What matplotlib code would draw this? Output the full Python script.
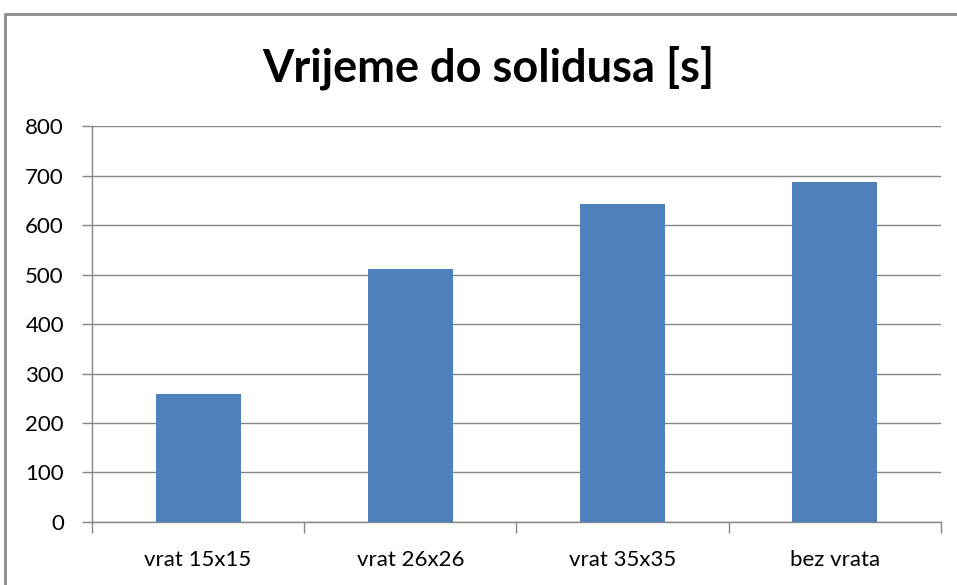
import matplotlib.pyplot as plt
import numpy as np
from matplotlib.patches import Rectangle

categories = ['vrat 15x15', 'vrat 26x26', 'vrat 35x35', 'bez vrata']
times = [258, 511, 642, 687]
y_ticks = [0, 100, 200, 300, 400, 500, 600, 700, 800]

grid_col = '#868686'
bar_col = '#4f81bd'

plt.rcParams['font.family'] = ['Lato', 'DejaVu Sans']

fig = plt.figure(figsize=(9.57, 5.85), dpi=100)
ax = fig.add_axes([0.0961, 0.1077, 0.8872, 0.6769])

x = np.arange(len(categories))
ax.bar(x, times, width=0.4, color=bar_col, zorder=3)

ax.set_xlim(-0.5, len(categories) - 0.5)
ax.set_ylim(0, 800)
ax.set_yticks(y_ticks)
ax.set_yticklabels([str(v) for v in y_ticks], fontsize=16)

# category labels in the middle, tick marks on the boundaries
ax.set_xticks(x)
ax.set_xticklabels(categories, fontsize=16)
ax.set_xticks(np.arange(len(categories) + 1) - 0.5, minor=True)
ax.tick_params(axis='x', which='major', length=0, pad=20)
ax.tick_params(axis='x', which='minor', length=8, color=grid_col, width=1)
ax.tick_params(axis='y', length=7.2, color=grid_col, width=1, pad=13)

ax.grid(axis='y', color=grid_col, linewidth=1, zorder=0)
for s in ['top', 'right']:
    ax.spines[s].set_visible(False)
for s in ['left', 'bottom']:
    ax.spines[s].set_color(grid_col)
    ax.spines[s].set_linewidth(1)

fig.text(0.51, 0.884, 'Vrijeme do solidusa [s]', ha='center', va='center',
         fontsize=32.5, fontweight='bold')

# chart area frame
fig.patches.append(Rectangle((5 / 957, -0.1), 1.2, 1 - 14 / 585 + 0.1,
                             transform=fig.transFigure, fill=False,
                             edgecolor='#8c8c8c', linewidth=2))

fig.savefig('out.png', dpi=100)
